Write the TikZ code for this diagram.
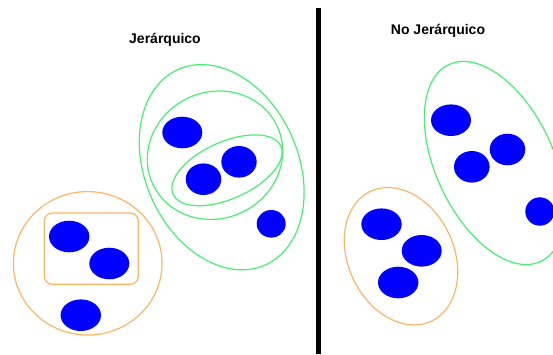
\documentclass[tikz,border=0pt]{standalone}
\usepackage{fontspec}
\setmainfont{Liberation Sans}
\definecolor{grn}{RGB}{70,240,110}
\definecolor{org}{RGB}{255,180,100}
\definecolor{dotblue}{RGB}{0,0,255}
\tikzset{
  grnline/.style={draw=grn, line width=1.2pt},
  orgline/.style={draw=org, line width=1.2pt},
  dot/.style={fill=dotblue},
  title/.style={font=\fontsize{14}{16}\selectfont\bfseries, anchor=base, inner sep=0pt}
}
\begin{document}
\begin{tikzpicture}[x=1pt,y=-1pt]
\useasboundingbox (0,0) rectangle (553,354);
% titles
\node[title] (t1) at (165,43.3) {Jerárquico};
\node[title] (t2) at (438,34) {No Jerárquico};
% divider
\draw[line width=4.5pt] (318.5,8) -- (318.5,354);
% ---- left panel ----
% green nested ellipses
\draw[grnline, shift={(221.7,167.2)}, rotate=24] (0,0) ellipse [x radius=76.6pt, y radius=107pt];
\draw[grnline, shift={(215,155.2)}, rotate=25] (0,0) ellipse [x radius=68.6pt, y radius=63.2pt];
\draw[grnline, shift={(227,170.3)}, rotate=24] (0,0) ellipse [x radius=59pt, y radius=28.5pt];
% orange circle and box
\draw[orgline] (87.7,263.3) ellipse [x radius=74.3pt, y radius=71.7pt];
\draw[orgline, rounded corners=8pt] (44.3,213) rectangle (138.3,284.3);
% dots
\fill[dot] (182.3,132.5) ellipse [x radius=20pt, y radius=15.8pt];
\fill[dot] (203.5,179.2) ellipse [x radius=17.8pt, y radius=15.8pt];
\fill[dot] (239,161.8) ellipse [x radius=17.7pt, y radius=15.8pt];
\fill[dot] (271.2,223.8) ellipse [x radius=14.5pt, y radius=13.8pt];
\fill[dot] (69.2,236.5) ellipse [x radius=20.2pt, y radius=15.8pt];
\fill[dot] (109.3,263.5) ellipse [x radius=20pt, y radius=15.8pt];
\fill[dot] (80.8,315.2) ellipse [x radius=20.2pt, y radius=15.8pt];
% ---- right panel ----
\draw[grnline, shift={(494.8,163)}, rotate=25] (0,0) ellipse [x radius=59pt, y radius=108.6pt];
\draw[orgline, shift={(401,256.2)}, rotate=25] (0,0) ellipse [x radius=52.9pt, y radius=71.7pt];
\fill[dot] (451,120.2) ellipse [x radius=20pt, y radius=15.8pt];
\fill[dot] (471.8,166.8) ellipse [x radius=17.8pt, y radius=15.8pt];
\fill[dot] (507.5,149.5) ellipse [x radius=17.8pt, y radius=15.8pt];
\fill[dot] (539.8,211.5) ellipse [x radius=14.5pt, y radius=14.2pt];
\fill[dot] (381.5,224.2) ellipse [x radius=20.2pt, y radius=15.8pt];
\fill[dot] (421.7,250.8) ellipse [x radius=20pt, y radius=15.8pt];
\fill[dot] (398.2,282.5) ellipse [x radius=20.2pt, y radius=15.8pt];
\end{tikzpicture}
\end{document}
